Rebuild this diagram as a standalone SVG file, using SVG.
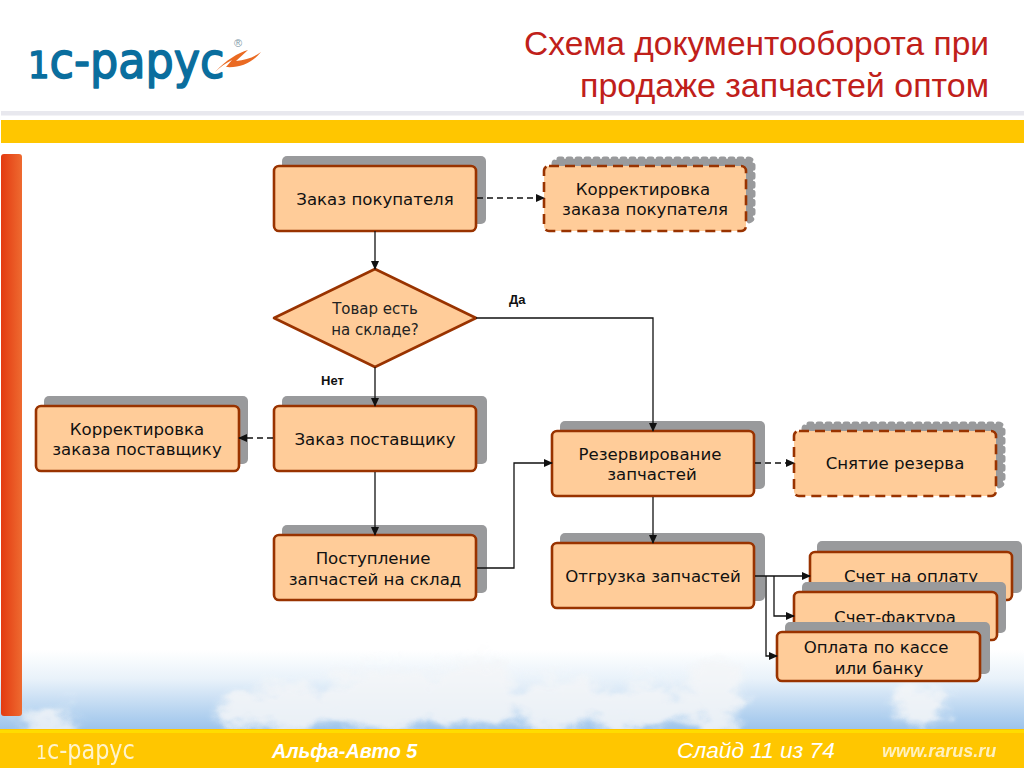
<svg xmlns="http://www.w3.org/2000/svg" width="1024" height="768" viewBox="0 0 1024 768">
<style>
.s{fill:#999a9c}
.sd{fill:#999a9c;stroke:#999a9c;stroke-width:5;stroke-dasharray:3 6;stroke-linecap:round}
.b{fill:#ffcc99;stroke:#993300;stroke-width:2.6}
.d{stroke-dasharray:10 6}
.t{font-family:"DejaVu Sans",sans-serif;font-size:16.6px;fill:#111;text-anchor:middle}
.tt{font-family:"Liberation Sans",sans-serif;font-size:33.5px;fill:#c0201a}
.l{font-family:"Liberation Sans",sans-serif;font-size:13px;font-weight:bold;fill:#111}
.c{fill:none;stroke:#111;stroke-width:1.3}
.f{font-family:"Liberation Sans",sans-serif;font-style:italic;fill:#fff}
.dt{font-family:"DejaVu Sans",sans-serif;font-size:15px;fill:#222;text-anchor:middle}
</style>
<defs>
<linearGradient id="sky" x1="0" y1="0" x2="0" y2="1"><stop offset="0" stop-color="#fff"/><stop offset="0.35" stop-color="#e9f2fa"/><stop offset="1" stop-color="#98c1ea"/></linearGradient>
<linearGradient id="bar" x1="0" y1="0" x2="1" y2="0"><stop offset="0" stop-color="#e33a10"/><stop offset="1" stop-color="#ee6a30"/></linearGradient>
<filter id="cloud" x="-10%" y="-30%" width="120%" height="160%"><feTurbulence type="fractalNoise" baseFrequency="0.035 0.05" numOctaves="3" seed="4" result="n"/><feGaussianBlur in="SourceGraphic" stdDeviation="6" result="b"/><feDisplacementMap in="b" in2="n" scale="32" xChannelSelector="R" yChannelSelector="G"/></filter>
<marker id="a" markerWidth="9" markerHeight="8" refX="8" refY="4" orient="auto" markerUnits="userSpaceOnUse"><path d="M0 0L9 4L0 8Z" fill="#111"/></marker>
</defs>
<rect width="1024" height="768" fill="#fff"/>
<g id="background">
<rect x="0" y="650" width="1024" height="82" fill="url(#sky)"/>
<g fill="#f4f6f8" filter="url(#cloud)" opacity="0.88">
<ellipse cx="48" cy="722" rx="30" ry="10"/>
<ellipse cx="240" cy="712" rx="22" ry="20"/>
<ellipse cx="290" cy="708" rx="40" ry="26"/>
<ellipse cx="380" cy="700" rx="60" ry="34"/>
<ellipse cx="470" cy="695" rx="50" ry="34"/>
<ellipse cx="560" cy="705" rx="50" ry="26"/>
<ellipse cx="640" cy="708" rx="55" ry="24"/>
<ellipse cx="715" cy="695" rx="30" ry="36"/>
<ellipse cx="920" cy="705" rx="26" ry="22"/>
</g>
<rect x="0" y="729" width="1024" height="39" fill="#ffc600"/>
<rect x="0" y="730" width="1024" height="3" fill="#ffdc00"/>
<rect x="1" y="111" width="1023" height="4.500" fill="#e8e8ee"/>
<rect x="1" y="120" width="1023" height="23" fill="#ffc600"/>
<rect x="1" y="154" width="21" height="562" rx="3" fill="url(#bar)"/>
</g>
<g id="logo">
<text transform="translate(28 78) scale(.89 1)" font-family="'DejaVu Sans',sans-serif" fill="#0a6e9e" stroke="#0a6e9e" stroke-width="1.600" stroke-linejoin="round" font-size="50"><tspan font-size="38">1</tspan>с-рарус</text>
<path d="M215 72C226 60 238 53 248 50L236 61C246 60 254 57 261 52C252 63 240 68 226 67L232 60C226 63 220 67 215 72Z" fill="#ea6a22"/>
<text x="234" y="47" font-family="'Liberation Sans',sans-serif" font-size="11" fill="#7f9aa8">®</text>
</g>
<g id="title">
<text class="tt" x="989" y="55" text-anchor="end">Схема документооборота при</text>
<text class="tt" x="580" y="97" textLength="409" lengthAdjust="spacingAndGlyphs">продаже запчастей оптом</text>
</g>
<g id="n1"><rect class="s" x="282" y="156" width="204" height="68" rx="5"/><rect class="b" x="274" y="166" width="202" height="65" rx="5"/><text class="t" x="375" y="205">Заказ покупателя</text></g>
<g id="n2"><rect class="sd" x="554" y="159" width="199" height="62" rx="5"/><rect class="b d" x="544" y="166" width="202" height="65" rx="5"/><text class="t" x="643" y="195">Корректировка</text><text class="t" x="645" y="215">заказа покупателя</text></g>
<g id="n3"><path d="M274 318L375 269L476 318L375 367Z" fill="#ffcc99" stroke="#993300" stroke-width="2.600" stroke-linejoin="round"/><text class="dt" x="375" y="314">Товар есть</text><text class="dt" x="375" y="335">на складе?</text></g>
<g id="n4"><rect class="s" x="44" y="396" width="204" height="68" rx="5"/><rect class="b" x="36" y="406" width="203" height="65" rx="5"/><text class="t" x="137" y="435">Корректировка</text><text class="t" x="137" y="455">заказа поставщику</text></g>
<g id="n5"><rect class="s" x="282" y="396" width="205" height="68" rx="5"/><rect class="b" x="274" y="406" width="202" height="65" rx="5"/><text class="t" x="375" y="445">Заказ поставщику</text></g>
<g id="n6"><rect class="s" x="282" y="525" width="205" height="68" rx="5"/><rect class="b" x="274" y="535" width="202" height="65" rx="5"/><text class="t" x="373" y="564">Поступление</text><text class="t" x="375" y="585">запчастей на склад</text></g>
<g id="n7"><rect class="s" x="560" y="421" width="205" height="68" rx="5"/><rect class="b" x="552" y="431" width="202" height="65" rx="5"/><text class="t" x="650" y="460">Резервирование</text><text class="t" x="652" y="480">запчастей</text></g>
<g id="n8"><rect class="sd" x="804" y="424" width="199" height="62" rx="5"/><rect class="b d" x="794" y="431" width="202" height="65" rx="5"/><text class="t" x="895" y="469">Снятие резерва</text></g>
<g id="n9"><rect class="s" x="560" y="533" width="205" height="68" rx="5"/><rect class="b" x="552" y="543" width="202" height="65" rx="5"/><text class="t" x="653" y="582">Отгрузка запчастей</text></g>
<g id="n10"><rect class="s" x="817" y="541" width="205" height="52" rx="5"/><rect class="b" x="810" y="552" width="202" height="48" rx="5"/><text class="t" x="911" y="582">Счет на оплату</text></g>
<g id="n11"><rect class="s" x="802" y="582" width="204" height="51" rx="5"/><rect class="b" x="794" y="592" width="203" height="48" rx="5"/><text class="t" x="895" y="623">Счет-фактура</text></g>
<g id="n12"><rect class="s" x="785" y="622" width="205" height="52" rx="5"/><rect class="b" x="777" y="632" width="203" height="49" rx="5"/><text class="t" x="876" y="653">Оплата по кассе</text><text class="t" x="879" y="674">или банку</text></g>
<g id="connectors">
<path class="c" d="M375 231V269" marker-end="url(#a)"/>
<path class="c" d="M477 198H544" stroke-dasharray="6 4" marker-end="url(#a)"/>
<path class="c" d="M375 367V406" marker-end="url(#a)"/>
<path class="c" d="M273 438H239" stroke-dasharray="6 4" marker-end="url(#a)"/>
<path class="c" d="M375 472V535" marker-end="url(#a)"/>
<path class="c" d="M477 568H514V463H552" marker-end="url(#a)"/>
<path class="c" d="M476 318H653V431" marker-end="url(#a)"/>
<path class="c" d="M755 463H794" stroke-dasharray="6 4" marker-end="url(#a)"/>
<path class="c" d="M653 497V543" marker-end="url(#a)"/>
<path class="c" d="M755 576H810" marker-end="url(#a)"/>
<path class="c" d="M774 576V616H794" marker-end="url(#a)"/>
<path class="c" d="M766 576V656H777" marker-end="url(#a)"/>
</g>
<g id="labels">
<text class="l" x="509" y="304">Да</text>
<text class="l" x="321" y="385">Нет</text>
</g>
<g id="footer">
<text transform="translate(36 759) scale(.86 1)" font-family="'DejaVu Sans',sans-serif" fill="#fff" opacity="0.8" font-size="26"><tspan font-size="20">1</tspan>с-рарус</text>
<text class="f" x="272" y="758" font-size="19.800" font-weight="bold">Альфа-Авто 5</text>
<text class="f" x="677" y="758" font-size="22.700">Слайд 11 из 74</text>
<text class="f" x="882" y="757" font-size="18" font-weight="bold" opacity="0.75">www.rarus.ru</text>
</g>
</svg>
